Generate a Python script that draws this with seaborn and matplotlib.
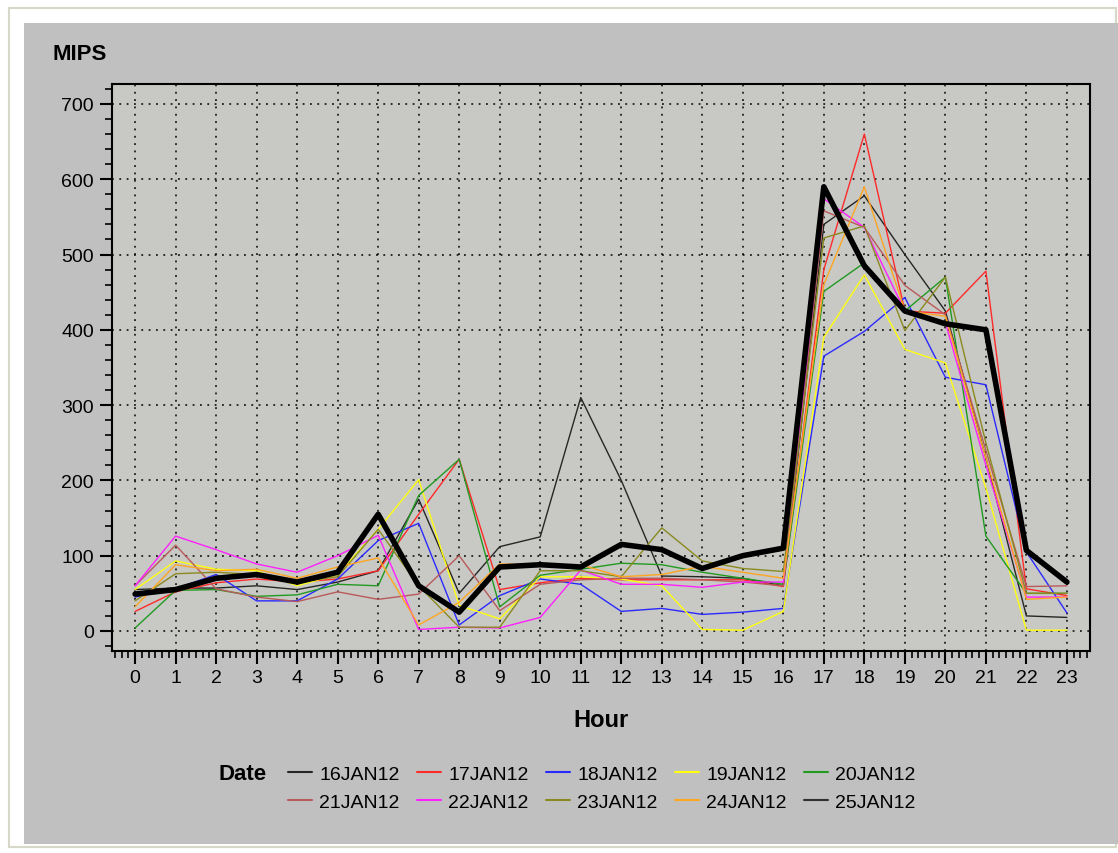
import matplotlib
matplotlib.use("Agg")
import matplotlib.pyplot as plt
from matplotlib.patches import Rectangle
from matplotlib.lines import Line2D
from matplotlib.ticker import MultipleLocator
import seaborn as sns
import pandas as pd

hours = list(range(24))
dates = ["16JAN12", "17JAN12", "18JAN12", "19JAN12", "20JAN12",
         "21JAN12", "22JAN12", "23JAN12", "24JAN12", "25JAN12"]
d16 = [55, 57, 57, 60, 55, 65, 80, 175, 50, 112, 125, 310, 200, 73, 72, 70, 60, 540, 578, 500, 425, 230, 20, 18]
d17 = [26, 52, 64, 69, 65, 69, 80, 155, 228, 55, 64, 70, 68, 68, 68, 68, 59, 480, 660, 425, 422, 478, 56, 47]
d18 = [45, 56, 75, 40, 40, 69, 120, 143, 8, 47, 69, 62, 26, 30, 22, 25, 30, 365, 398, 443, 337, 327, 105, 24]
d19 = [55, 93, 82, 80, 60, 75, 135, 201, 34, 16, 72, 72, 69, 60, 2, 1, 26, 390, 473, 374, 356, 190, 1, 1]
d20 = [4, 54, 55, 46, 48, 62, 60, 180, 228, 32, 74, 82, 90, 88, 78, 70, 62, 451, 489, 425, 470, 126, 50, 50]
d21 = [60, 114, 56, 45, 39, 52, 42, 49, 100, 27, 62, 68, 70, 70, 68, 65, 60, 558, 536, 459, 420, 240, 59, 60]
d22 = [60, 126, 108, 89, 78, 100, 127, 2, 5, 4, 18, 81, 62, 62, 58, 65, 65, 574, 536, 425, 410, 220, 45, 45]
d23 = [40, 76, 78, 75, 65, 72, 135, 60, 5, 5, 80, 80, 72, 137, 93, 83, 79, 522, 538, 399, 470, 250, 50, 50]
d24 = [32, 88, 80, 82, 70, 85, 97, 8, 38, 89, 88, 88, 72, 75, 86, 78, 70, 460, 590, 425, 418, 230, 42, 45]
d25 = [49, 55, 70, 75, 65, 78, 155, 60, 25, 85, 88, 85, 115, 108, 83, 100, 110, 590, 485, 425, 408, 400, 107, 65]
series = [d16, d17, d18, d19, d20, d21, d22, d23, d24, d25]
colors = ["#262626", "#ff2a2a", "#2a2aff", "#ffff10", "#229a22",
          "#b85a5a", "#ff20ff", "#8a8a20", "#ffa520", "#303030"]

rows = []
for dname, vals in zip(dates, series):
    for h, v in zip(hours, vals):
        rows.append({"Hour": h, "MIPS": v, "Date": dname})
df = pd.DataFrame(rows)
palette = dict(zip(dates, colors))

sns.set_style("ticks")
plt.rcParams["font.family"] = ["Liberation Sans", "DejaVu Sans"]
plt.rcParams["text.color"] = "black"
plt.rcParams["axes.labelcolor"] = "black"
plt.rcParams["xtick.color"] = "black"
plt.rcParams["ytick.color"] = "black"

fig = plt.figure(figsize=(11.18, 8.54), dpi=100)
fig.patch.set_facecolor("white")
W, H = 1118, 854
# outer border and gray panel
fig.patches.append(Rectangle((9 / W, 1 - 848 / H), (1116 - 9) / W, (848 - 9) / H,
                             transform=fig.transFigure, facecolor="white",
                             edgecolor="#d8d8c8", lw=1.5, zorder=-2))
fig.patches.append(Rectangle((24 / W, 1 - 845 / H), (1118 - 24) / W, (845 - 24) / H,
                             transform=fig.transFigure, facecolor="#c0c0c0",
                             edgecolor="none", zorder=-1))

ax = fig.add_axes([112 / W, 1 - 652 / H, (1090 - 112) / W, (652 - 85) / H])
ax.set_zorder(2)
ax.set_facecolor("#c8c8c4")

sns.lineplot(data=df, x="Hour", y="MIPS", hue="Date", palette=palette,
             hue_order=dates, linewidth=1.0, ax=ax, legend=False, zorder=3)
sns.lineplot(x=hours, y=d25, color="black", linewidth=4.0, ax=ax,
             legend=False, zorder=4)

ax.set_xlim(-0.57, 23.57)
ax.set_ylim(-26.6, 726.5)
ax.set_xticks(hours)
ax.set_yticks(range(0, 701, 100))
ax.xaxis.set_minor_locator(MultipleLocator(1 / 6))
ax.yaxis.set_minor_locator(MultipleLocator(20))
ax.grid(True, which="major", color="black", linestyle=(0, (1.2, 3.6)), linewidth=1.1)
ax.set_axisbelow(True)
for s in ax.spines.values():
    s.set_color("black")
    s.set_linewidth(1.5)
ax.tick_params(axis="both", which="major", direction="out", length=9, width=1.5,
               labelsize=14, colors="black", pad=4)
ax.tick_params(axis="both", which="minor", direction="out", length=5, width=1.2,
               colors="black")
ax.set_xlabel("Hour", fontsize=17, fontweight="bold", labelpad=16, color="black")
ax.set_ylabel("")
fig.text(52 / W, 1 - 55 / H, "MIPS", fontsize=16, fontweight="bold",
         ha="left", va="center", color="black")

handles = [Line2D([0], [0], color=c, lw=1.5) for c in colors]
order = [0, 5, 1, 6, 2, 7, 3, 8, 4, 9]
fig.text(218 / W, 1 - 775 / H, "Date", fontsize=16, fontweight="bold",
         ha="left", va="center", color="black")
leg = fig.legend([handles[i] for i in order], [dates[i] for i in order],
                 loc="center", bbox_to_anchor=(602 / W, 1 - 789 / H),
                 ncol=5, frameon=False, fontsize=14, handlelength=1.2,
                 handletextpad=0.4, columnspacing=0.9, labelspacing=0.55,
                 borderpad=0)
for t in leg.get_texts():
    t.set_color("black")

fig.savefig("out.png", dpi=100, facecolor=fig.get_facecolor())
